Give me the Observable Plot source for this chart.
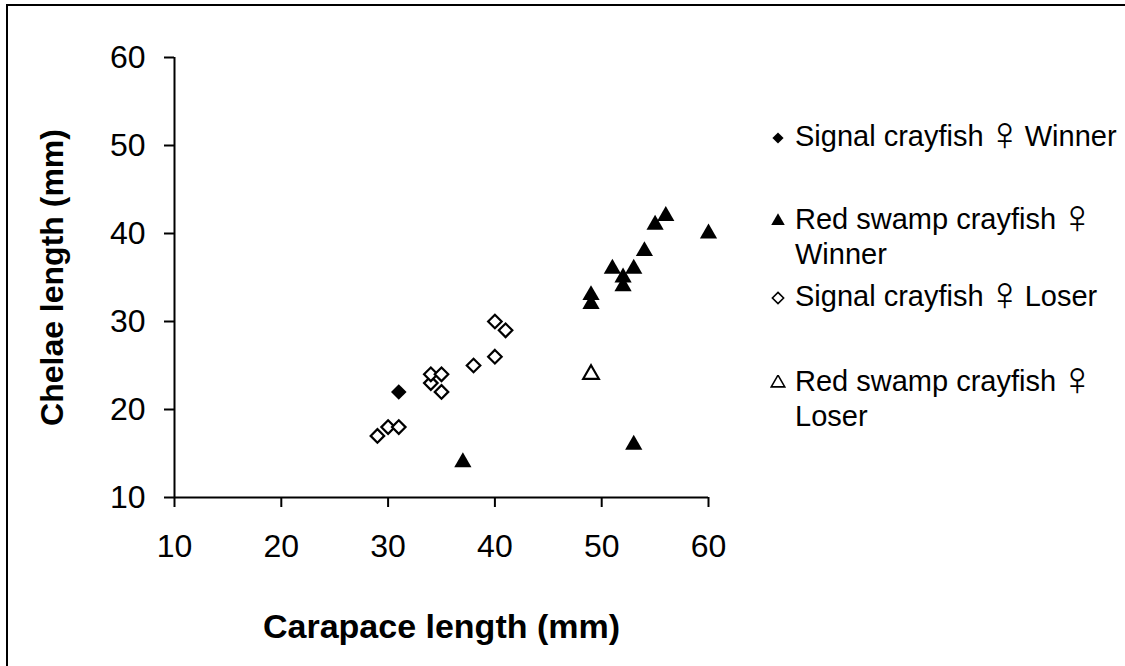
<!DOCTYPE html>
<html>
<head>
<meta charset="utf-8">
<script src="https://cdn.jsdelivr.net/npm/d3@7"></script>
<script src="https://cdn.jsdelivr.net/npm/@observablehq/plot@0.6"></script>
<style>
  body { margin: 0; background: #fff; overflow: hidden; }
  #wrap { position: relative; width: 1125px; height: 666px; font-family: "Liberation Sans", Arial, sans-serif; color: #000; }
  #frame { position: absolute; left: 6px; top: 4px; width: 1200px; height: 800px; border-left: 2px solid #000; border-top: 2px solid #000; }
  #chart { position: absolute; left: 0; top: 0; }
  #legend { position: absolute; left: 770px; top: 0; font-size: 29px; line-height: 35px; }
  .item { position: absolute; left: 0; white-space: pre; display: flex; align-items: flex-start; }
  .item svg { margin-top: 11px; margin-right: 9px; flex: none; }
  .sym { font-family: "DejaVu Sans", sans-serif; font-weight: 200; font-size: 48px; line-height: 0; position: relative; top: 4px; margin: 0 -6px 0 -5px; }
  g[aria-label="x-axis label"] text { font-weight: bold; font-size: 34px; }
  g[aria-label="y-axis label"] text { font-weight: bold; font-size: 32px; }
</style>
</head>
<body>
<div id="wrap">
  <div id="frame"></div>
  <div id="chart"></div>
  <div id="legend"></div>
</div>
<script>
// values (mm)
const signalWinnerX = [31];
const signalWinnerY = [22];
const redWinnerX = [37, 49, 49, 51, 52, 52, 53, 53, 54, 55, 56, 60];
const redWinnerY = [14, 32, 33, 36, 34, 35, 36, 16, 38, 41, 42, 40];
const signalLoserX = [29, 30, 31, 34, 34, 35, 35, 38, 40, 40, 41];
const signalLoserY = [17, 18, 18, 23, 24, 24, 22, 25, 26, 30, 29];
const redLoserX = [49];
const redLoserY = [24];

const xTicks = [10, 20, 30, 40, 50, 60];
const yTicks = [10, 20, 30, 40, 50, 60];

const seriesNames = [
  "Signal crayfish ♀ Winner",
  "Red swamp crayfish ♀\nWinner",
  "Signal crayfish ♀ Loser",
  "Red swamp crayfish ♀\nLoser"
];

const toRows = (xs, ys) => xs.map((x, i) => ({x, y: ys[i]}));

const diamond = d3.symbolDiamond2 || d3.symbolDiamond;
const triangle = d3.symbolTriangle;

const chart = Plot.plot({
  width: 1125,
  height: 666,
  marginLeft: 174,
  marginRight: 417,
  marginTop: 57,
  marginBottom: 169,
  style: {fontFamily: '"Liberation Sans", Arial, sans-serif', color: "#000", background: "transparent", overflow: "visible"},
  x: {domain: [10, 60]},
  y: {domain: [10, 60]},
  marks: [
    Plot.axisX({ticks: xTicks, tickSize: 10, tickPadding: 27, strokeWidth: 2, fontSize: 32,
      label: "Carapace length (mm)", labelAnchor: "center", labelArrow: "none", labelOffset: 140}),
    Plot.axisY({ticks: yTicks, tickSize: 10, tickPadding: 19, strokeWidth: 2, fontSize: 32,
      label: "Chelae length (mm)", labelAnchor: "center", labelArrow: "none", labelOffset: 134}),
    Plot.ruleY([10], {stroke: "#000", strokeWidth: 2}),
    Plot.ruleX([10], {stroke: "#000", strokeWidth: 2}),
    Plot.dot(toRows(signalWinnerX, signalWinnerY), {x: "x", y: "y", symbol: diamond, r: 7, fill: "#000", stroke: "none"}),
    Plot.dot(toRows(redWinnerX, redWinnerY), {x: "x", y: "y", symbol: triangle, r: 6.4, fill: "#000", stroke: "none"}),
    Plot.dot(toRows(signalLoserX, signalLoserY), {x: "x", y: "y", symbol: diamond, r: 6.1, fill: "#fff", stroke: "#000", strokeWidth: 2.2}),
    Plot.dot(toRows(redLoserX, redLoserY), {x: "x", y: "y", symbol: triangle, r: 5.8, fill: "#fff", stroke: "#000", strokeWidth: 2.2})
  ]
});
d3.select("#chart").append(() => chart);

// legend
const legendStyle = [
  {symbol: diamond, fill: "#000", stroke: "none", top: 119},
  {symbol: triangle, fill: "#000", stroke: "none", top: 202},
  {symbol: diamond, fill: "#fff", stroke: "#000", top: 279},
  {symbol: triangle, fill: "#fff", stroke: "#000", top: 364}
];
const legend = d3.select("#legend");
seriesNames.forEach((name, i) => {
  const s = legendStyle[i];
  const item = legend.append("div").attr("class", "item").style("top", s.top + "px");
  const svg = item.append("svg").attr("width", 16).attr("height", 16).attr("viewBox", "-8 -8 16 16");
  svg.append("path")
    .attr("d", d3.symbol(s.symbol, 80)())
    .attr("fill", s.fill)
    .attr("stroke", s.stroke)
    .attr("stroke-width", 1.6);
  const label = item.append("div");
  name.split("♀").forEach((part, j) => {
    if (j > 0) label.append("span").attr("class", "sym").text("♀");
    label.append("span").text(part);
  });
});
</script>
</body>
</html>
